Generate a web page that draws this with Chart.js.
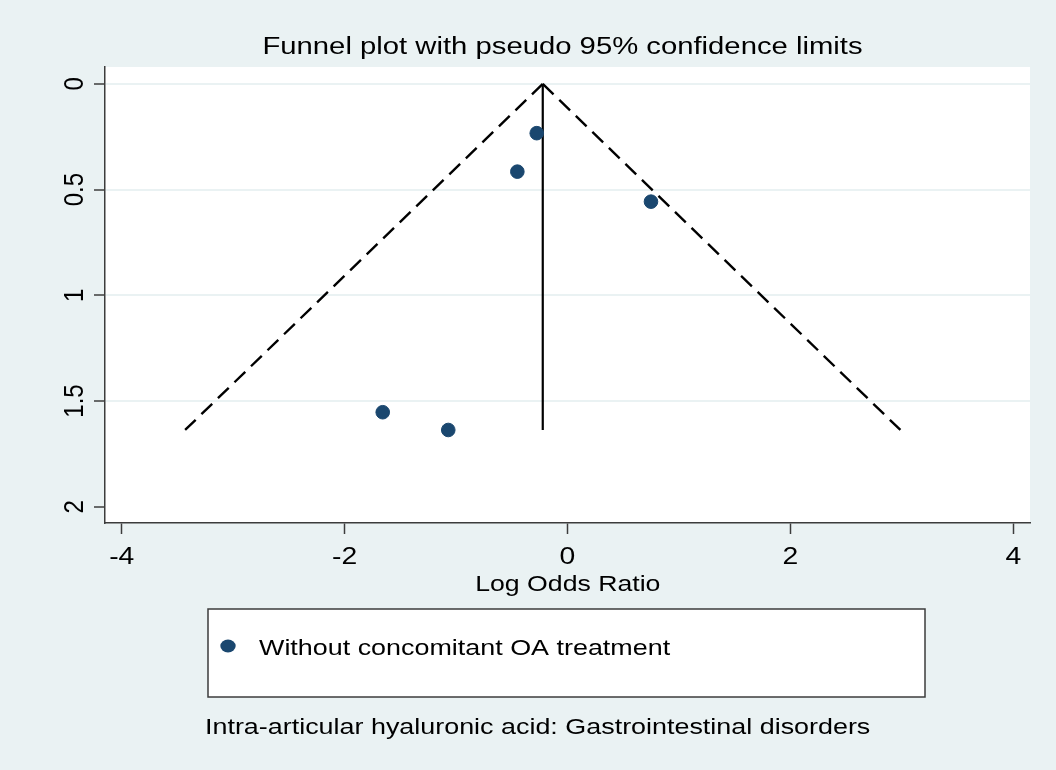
<!DOCTYPE html>
<html>
<head>
<meta charset="utf-8">
<script src="https://cdn.jsdelivr.net/npm/chart.js@4/dist/chart.umd.min.js"></script>
<style>
  html, body { margin: 0; padding: 0; background: #eaf2f3; }
  #wrap { width: 1056px; height: 770px; }
</style>
</head>
<body>
<div id="wrap"><canvas id="funnel" width="1056" height="770"></canvas></div>
<script>
// valores
const logOddsRatio = [-0.276, -0.450, 0.749, -1.658, -1.070];
const seLogOR = [0.233, 0.415, 0.557, 1.553, 1.637];
const pooledLogOR = [-0.222, -0.222];
const funnelSE = [0, 1.637];
const lowerLimit = [-0.222, -3.431];
const upperLimit = [-0.222, 2.987];

const xTicks = [-4, -2, 0, 2, 4];
const yTicks = [0, 0.5, 1, 1.5, 2];

const titleText = 'Funnel plot with pseudo 95% confidence limits';
const xTitle = 'Log Odds Ratio';
const legendLabel = 'Without concomitant OA treatment';
const noteText = 'Intra-articular hyaluronic acid: Gastrointestinal disorders';

const FONT = '"Liberation Sans", Arial, sans-serif';
const navy = '#1a476f';
const bg = '#eaf2f3';
const axisColor = '#3c3c3c';
const STRETCH = 1.18; // el original esta estirado en horizontal

function toPoints(xs, ys) {
    return xs.map((x, i) => ({ x: x, y: ys[i] }));
}

// texto estirado en x, align: 'left' | 'center'
function wideText(ctx, text, x, y, size, align) {
    ctx.save();
    ctx.font = size + 'px ' + FONT;
    ctx.textBaseline = 'alphabetic';
    ctx.textAlign = 'left';
    const w = ctx.measureText(text).width * STRETCH;
    const x0 = align === 'center' ? x - w / 2 : x;
    ctx.translate(x0, y);
    ctx.scale(STRETCH, 1);
    ctx.fillText(text, 0, 0);
    ctx.restore();
}

// fondo y textos dibujados a mano (estilo Stata)
const stataDecor = {
    id: 'stataDecor',
    beforeDraw(chart) {
        const ctx = chart.ctx;
        const a = chart.chartArea;
        ctx.save();
        ctx.fillStyle = bg;
        ctx.fillRect(0, 0, chart.width, chart.height);
        ctx.fillStyle = '#ffffff';
        ctx.fillRect(a.left, a.top, a.right - a.left, a.bottom - a.top);
        ctx.restore();
    },
    afterDraw(chart) {
        const ctx = chart.ctx;
        const xScale = chart.scales.x;
        const yScale = chart.scales.y;
        ctx.save();
        ctx.fillStyle = '#000';

        // titulo
        wideText(ctx, titleText, 562.5, 54.3, 24.8, 'center');

        // etiquetas eje x
        xTicks.forEach(v => {
            wideText(ctx, String(v), xScale.getPixelForValue(v), 564.3, 24, 'center');
        });

        // etiquetas del eje y, giradas
        ctx.font = '24px ' + FONT;
        ctx.textAlign = 'center';
        ctx.textBaseline = 'alphabetic';
        yTicks.forEach(v => {
            const py = yScale.getPixelForValue(v);
            ctx.save();
            ctx.translate(83, py);
            ctx.scale(STRETCH, 1);
            ctx.rotate(-Math.PI / 2);
            ctx.fillText(String(v), 0, 0);
            ctx.restore();
        });

        // titulo eje x
        wideText(ctx, xTitle, 567.8, 590.7, 22.6, 'center');

        // leyenda
        const lx = 208, ly = 609, lw = 717, lh = 88;
        ctx.fillStyle = '#ffffff';
        ctx.fillRect(lx, ly, lw, lh);
        ctx.strokeStyle = axisColor;
        ctx.lineWidth = 1.5;
        ctx.strokeRect(lx, ly, lw, lh);
        ctx.fillStyle = navy;
        ctx.beginPath();
        ctx.ellipse(228, 646, 6.5 * STRETCH, 6.5, 0, 0, Math.PI * 2);
        ctx.fill();
        ctx.fillStyle = '#000';
        wideText(ctx, legendLabel, 259, 654.5, 22.8, 'left');

        // nota
        wideText(ctx, noteText, 205, 734.3, 22.8, 'left');
        ctx.restore();
    }
};

const ctx = document.getElementById('funnel').getContext('2d');
const funnelChart = new Chart(ctx, {
    type: 'scatter',
    data: {
        datasets: [
            {
                label: legendLabel,
                data: toPoints(logOddsRatio, seLogOR),
                backgroundColor: navy,
                borderColor: navy,
                pointRadius: 6.8,
                pointHoverRadius: 6.8,
                order: 0
            },
            {
                label: 'pooled',
                data: toPoints(pooledLogOR, funnelSE),
                showLine: true,
                borderColor: '#000',
                borderWidth: 2.2,
                pointRadius: 0,
                order: 1
            },
            {
                label: 'lower',
                data: toPoints(lowerLimit, funnelSE),
                showLine: true,
                borderColor: '#000',
                borderWidth: 2.4,
                borderDash: [15, 8],
                pointRadius: 0,
                order: 1
            },
            {
                label: 'upper',
                data: toPoints(upperLimit, funnelSE),
                showLine: true,
                borderColor: '#000',
                borderWidth: 2.4,
                borderDash: [15, 8],
                pointRadius: 0,
                order: 1
            }
        ]
    },
    options: {
        responsive: false,
        animation: false,
        layout: { padding: { top: 67, right: 26, left: 0, bottom: 0 } },
        plugins: {
            legend: { display: false },
            title: { display: false },
            tooltip: { enabled: false }
        },
        scales: {
            x: {
                type: 'linear',
                min: -4.15,
                max: 4.15,
                afterBuildTicks: s => { s.ticks = xTicks.map(v => ({ value: v })); },
                afterFit: s => { s.height = 247; },
                border: { display: true, color: axisColor, width: 1.5 },
                grid: {
                    drawOnChartArea: false,
                    tickLength: 11,
                    tickColor: axisColor,
                    tickWidth: 1.5
                },
                ticks: { display: false }
            },
            y: {
                type: 'linear',
                reverse: true,
                min: -0.08,
                max: 2.077,
                afterBuildTicks: s => { s.ticks = yTicks.map(v => ({ value: v })); },
                afterFit: s => { s.width = 105; },
                border: { display: true, color: axisColor, width: 1.5 },
                grid: {
                    color: c => (c.tick && c.tick.value === 2) ? 'rgba(0,0,0,0)' : bg,
                    lineWidth: 2,
                    tickLength: 11,
                    tickColor: axisColor,
                    tickWidth: 1.5
                },
                ticks: { display: false }
            }
        }
    },
    plugins: [stataDecor]
});
</script>
</body>
</html>
